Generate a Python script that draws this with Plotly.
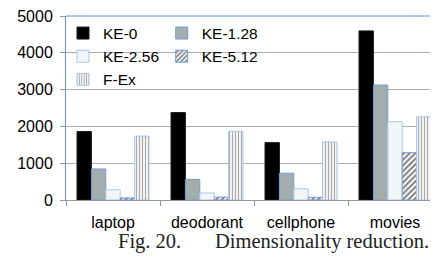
import plotly.graph_objects as go

categories = ["laptop", "deodorant", "cellphone", "movies"]
series_names = ["KE-0", "KE-1.28", "KE-2.56", "KE-5.12", "F-Ex"]
ke_0 = [1860, 2375, 1560, 4595]
ke_1_28 = [843, 560, 729, 3125]
ke_2_56 = [278, 190, 305, 2127]
ke_5_12 = [58, 80, 72, 1286]
f_ex = [1737, 1870, 1578, 2260]
y_ticks = [0, 1000, 2000, 3000, 4000, 5000]

# The page body has an 8px margin, so figure coordinates = screen - 8
OFF = 8
W, H = 438 - OFF, 257 - OFF
L = 66 - OFF
T = 12 - OFF
B = H - (200.5 - OFF)
R = 0
PW = W - L - R
PH = H - T - B

BLUE = "#5f90d9"
GRID = "#a9b1af"
AXIS = "#8e9a98"

def px_x(p):
    """screen x -> paper x"""
    return (p - OFF - L) / PW

def px_y(p):
    """screen y -> paper y"""
    return (H - B - (p - OFF)) / PH

styles = [
    dict(y=ke_0, color="#000000", line="#1a1a1a", pattern=None, legend="legend"),
    dict(y=ke_1_28, color="#a3aeac", line="#6e9de0", pattern=None, legend="legend2"),
    dict(y=ke_2_56, color="#f3f6f8", line="#a9c5ee", pattern=None, legend="legend"),
    dict(y=ke_5_12, color="#ffffff", line="#6e9de0",
         pattern=dict(shape="/", fgcolor="#000000", bgcolor="#ffffff", size=4, solidity=0.5),
         legend="legend2"),
    dict(y=f_ex, color="#ffffff", line="#a9c5ee",
         pattern=dict(shape="|", fgcolor="#555555", bgcolor="#ffffff", size=3, solidity=0.45),
         legend="legend"),
]

fig = go.Figure()
for name, st in zip(series_names, styles):
    marker = dict(color=st["color"], line=dict(color=st["line"], width=1))
    if st["pattern"]:
        marker["pattern"] = st["pattern"]
    fig.add_trace(go.Bar(
        x=categories, y=st["y"], name=name, marker=marker,
        legend=st["legend"], legendgroup=name,
    ))

legend_font = dict(family="Liberation Sans, Arial, sans-serif", size=15.5, color="#000000")
caption_font = dict(family="Liberation Serif, Times New Roman, serif", size=20.5, color="#222222")
fig.update_layout(
    width=W, height=H,
    margin=dict(l=L, r=R, t=T, b=B, pad=0),
    paper_bgcolor="white", plot_bgcolor="white",
    barmode="group", bargap=0.234, bargroupgap=0,
    font=dict(family="Liberation Sans, Arial, sans-serif", size=16, color="#000000"),
    legend=dict(x=px_x(63), y=px_y(12.5), xanchor="left", yanchor="top",
                bgcolor="rgba(0,0,0,0)", font=legend_font, tracegroupgap=4,
                traceorder="normal"),
    legend2=dict(x=px_x(161.7), y=px_y(12.5), xanchor="left", yanchor="top",
                 bgcolor="rgba(0,0,0,0)", font=legend_font, tracegroupgap=4,
                 traceorder="normal"),
    xaxis=dict(range=[-0.5, -0.5 + PW / 94.0], showgrid=False, showline=True,
               linecolor=AXIS, linewidth=1, ticks="outside", tickson="boundaries",
               ticklen=5, tickcolor=AXIS, ticklabelstandoff=8, zeroline=False,
               tickfont=dict(size=16)),
    yaxis=dict(range=[0, 5000], tickvals=y_ticks, showgrid=True, gridcolor=GRID,
               gridwidth=1, showline=True, linecolor=BLUE, linewidth=1,
               ticks="outside", ticklen=5, tickcolor=AXIS, ticklabelstandoff=4,
               ticklabeloverflow="allow", zeroline=False, tickfont=dict(size=16)),
    shapes=[
        dict(type="rect", xref="paper", yref="paper", x0=px_x(77), x1=px_x(272),
             y0=px_y(100), y1=1, fillcolor="white", line=dict(width=0), layer="between"),
        dict(type="line", xref="paper", yref="paper", x0=0, x1=1, y0=1, y1=1,
             line=dict(color=BLUE, width=1)),
    ],
    annotations=[
        dict(text="Fig. 20.", xref="paper", yref="paper", x=px_x(116), y=px_y(243),
             xanchor="left", yanchor="middle", showarrow=False, font=caption_font),
        dict(text="Dimensionality reduction.", xref="paper", yref="paper", x=px_x(213),
             y=px_y(243), xanchor="left", yanchor="middle", showarrow=False,
             font=caption_font),
    ],
)

fig.write_html("out.html")
